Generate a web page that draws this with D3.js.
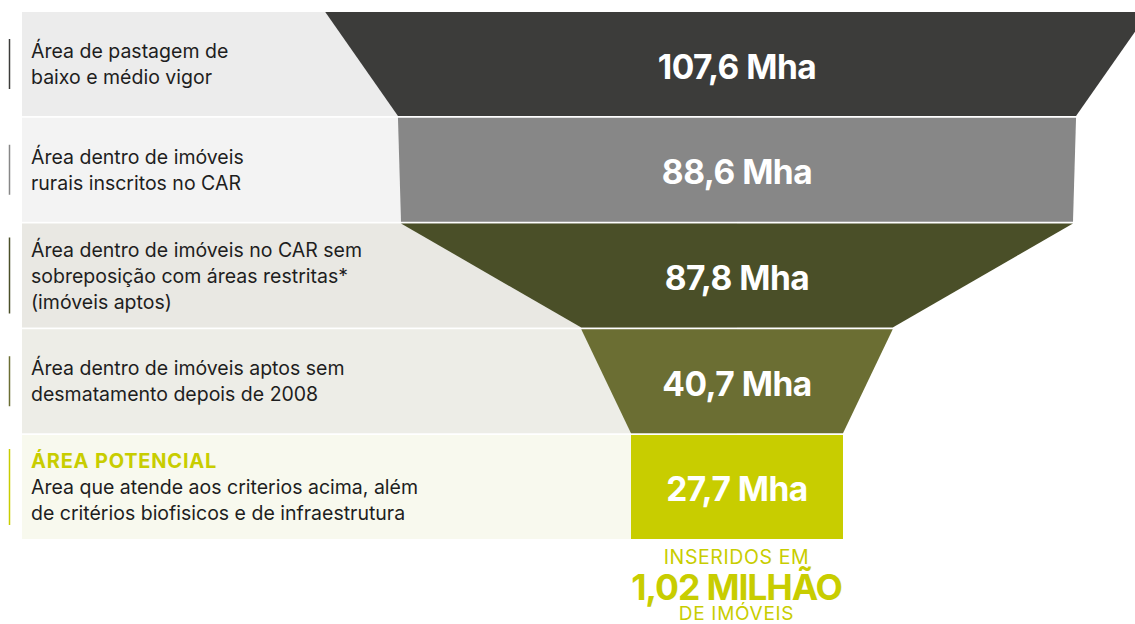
<!DOCTYPE html>
<html>
<head>
<meta charset="utf-8">
<script src="https://cdn.jsdelivr.net/npm/d3@7"></script>
<style>
  html, body { margin: 0; padding: 0; background: #ffffff; }
  svg { display: block; }
</style>
</head>
<body>
<svg id="chart" width="1135" height="624"></svg>
<script>
// ---- data ----
const stages = [
  "Área de pastagem de baixo e médio vigor",
  "Área dentro de imóveis rurais inscritos no CAR",
  "Área dentro de imóveis no CAR sem sobreposição com áreas restritas* (imóveis aptos)",
  "Área dentro de imóveis aptos sem desmatamento depois de 2008",
  "Area que atende aos criterios acima, além de critérios biofisicos e de infraestrutura"
];
const labelLines = [
  ["Área de pastagem de", "baixo e médio vigor"],
  ["Área dentro de imóveis", "rurais inscritos no CAR"],
  ["Área dentro de imóveis no CAR sem", "sobreposição com áreas restritas*", "(imóveis aptos)"],
  ["Área dentro de imóveis aptos sem", "desmatamento depois de 2008"],
  ["Area que atende aos criterios acima, além", "de critérios biofisicos e de infraestrutura"]
];
const highlightTitle = ["", "", "", "", "ÁREA POTENCIAL"];
const values = [107.6, 88.6, 87.8, 40.7, 27.7];
const valueLabels = ["107,6 Mha", "88,6 Mha", "87,8 Mha", "40,7 Mha", "27,7 Mha"];
const footnoteLines = ["INSERIDOS EM", "1,02 MILHÃO", "DE IMÓVEIS"];

// ---- styles ----
const shapeColors = ["#3c3c3a", "#878787", "#4a4f28", "#6b6e33", "#c8cd00"];
const bandColors  = ["#ececec", "#f3f3f3", "#e9e8e3", "#edede7", "#f8f9ee"];
const accent = "#c8cd00";

const svg = d3.select("#chart");
const cx = 737;

const y = d3.scaleBand()
  .domain(d3.range(values.length))
  .range([12, 539])
  .paddingInner(0.016);

const half = d3.scaleLinear()
  .domain([0, d3.max(values)])
  .range([0, 411.75]);

// background bands
svg.append("g").selectAll("rect")
  .data(values)
  .join("rect")
  .attr("x", 22)
  .attr("y", (d, i) => y(i))
  .attr("width", cx - 22)
  .attr("height", y.bandwidth())
  .attr("fill", (d, i) => bandColors[i]);

// funnel shapes
svg.append("g").selectAll("path")
  .data(values)
  .join("path")
  .attr("d", (d, i) => {
    const top = half(d);
    const bot = half(i < values.length - 1 ? values[i + 1] : d);
    const y0 = y(i), y1 = y(i) + y.bandwidth();
    return `M${cx - top},${y0}L${cx + top},${y0}L${cx + bot},${y1}L${cx - bot},${y1}Z`;
  })
  .attr("fill", (d, i) => shapeColors[i]);

// value labels
svg.append("g").selectAll("text")
  .data(valueLabels)
  .join("text")
  .attr("x", cx)
  .attr("y", (d, i) => y(i) + y.bandwidth() / 2 + 14.5)
  .attr("text-anchor", "middle")
  .attr("fill", "#ffffff")
  .style("font-family", "Inter, 'Noto Sans', sans-serif")
  .style("font-weight", 700)
  .style("font-size", "33.5px")
  .style("letter-spacing", "-0.5px")
  .text(d => d);

// left labels with marker lines
const lineH = 26;
const lab = svg.append("g").selectAll("g")
  .data(values)
  .join("g");

lab.each(function(d, i) {
  const g = d3.select(this);
  const lines = (highlightTitle[i] ? [highlightTitle[i]] : []).concat(labelLines[i]);
  const n = lines.length;
  const mid = y(i) + y.bandwidth() / 2;
  g.append("line")
    .attr("x1", 9.5).attr("x2", 9.5)
    .attr("y1", mid - (n * lineH - 2) / 2)
    .attr("y2", mid + (n * lineH - 2) / 2)
    .attr("stroke", shapeColors[i])
    .attr("stroke-width", 1.5);
  const first = mid - (n - 1) * lineH / 2 + 7;
  lines.forEach((t, k) => {
    const isTitle = highlightTitle[i] && k === 0;
    g.append("text")
      .attr("x", 31)
      .attr("y", first + k * lineH)
      .attr("fill", isTitle ? accent : "#1e1e1e")
      .style("font-family", "Inter, 'Noto Sans', sans-serif")
      .style("font-weight", isTitle ? 700 : 400)
      .style("font-size", isTitle ? "20px" : "19.5px")
      .style("letter-spacing", isTitle ? "0.8px" : "0px")
      .text(t);
  });
});

// footnote under the funnel
const foot = svg.append("g").attr("fill", accent)
  .style("font-family", "Inter, 'Noto Sans', sans-serif")
  .attr("text-anchor", "middle");
foot.append("text").attr("x", cx - 0.5).attr("y", 563.5)
  .style("font-size", "19.5px").style("font-weight", 400).style("letter-spacing", "0.6px")
  .text(footnoteLines[0]);
foot.append("text").attr("x", cx - 0.5).attr("y", 599.5)
  .style("font-size", "35.5px").style("font-weight", 700).style("letter-spacing", "-1.1px")
  .text(footnoteLines[1]);
foot.append("text").attr("x", cx - 0.5).attr("y", 619.5)
  .style("font-size", "19px").style("font-weight", 400).style("letter-spacing", "0.7px")
  .text(footnoteLines[2]);
</script>
</body>
</html>
